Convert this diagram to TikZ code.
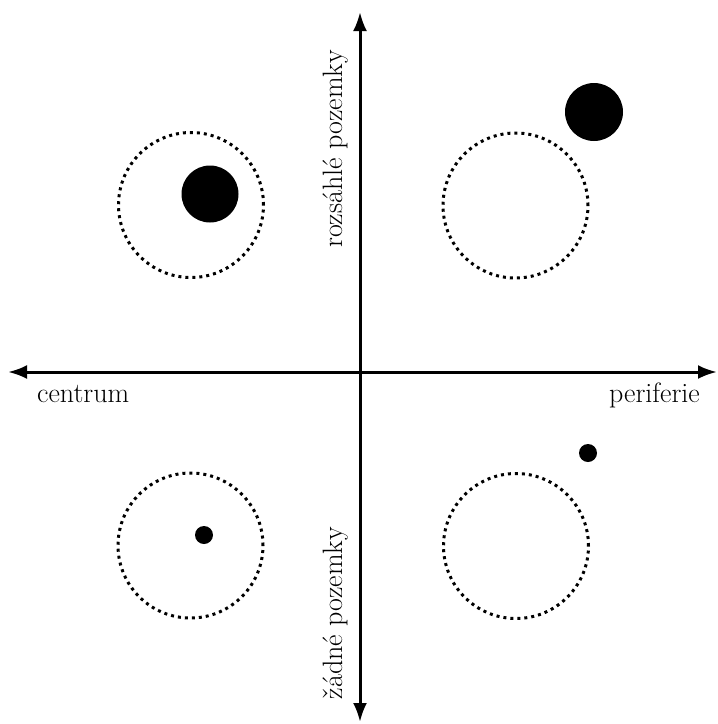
\documentclass[tikz,border=0pt]{standalone}
\usepackage{fontspec}
\usetikzlibrary{arrows.meta}
\begin{document}
\begin{tikzpicture}[x=1pt,y=-1pt,
  axis/.style={line width=3pt, {Latex[length=19pt,width=14pt]}-{Latex[length=19pt,width=14pt]}},
  zone/.style={circle, draw, line width=3pt, dash pattern=on 3pt off 4pt, minimum size=145pt, inner sep=0pt},
  blob/.style={circle, fill=black, inner sep=0pt},
  lab/.style={font=\fontsize{28}{32}\selectfont, inner sep=0pt}]
\useasboundingbox (0,0) rectangle (718,724);
% axes
\coordinate (W) at (8,372);
\coordinate (E) at (717,372);
\coordinate (N) at (360,12);
\coordinate (S) at (360,722);
\draw[axis] (W) -- (E);
\draw[axis] (S) -- (N);
% zones
\node[zone] (z1) at (191,205) {};
\node[zone] (z2) at (515.5,205.5) {};
\node[zone] (z3) at (190.5,545.5) {};
\node[zone] (z4) at (516,546) {};
% blobs
\node[blob, minimum size=57pt] (b1) at (210,194) {};
\node[blob, minimum size=58pt] (b2) at (594,112) {};
\node[blob, minimum size=18pt] (b3) at (204,535) {};
\node[blob, minimum size=18pt] (b4) at (588,453) {};
% labels
\node[lab, anchor=base west] (lc) at (37,402) {centrum};
\node[lab, anchor=base east] (lp) at (700,402) {periferie};
\node[lab, rotate=90, anchor=base] (lr) at (342,149) {rozsáhlé pozemky};
\node[lab, rotate=90, anchor=base] (lz) at (342,613) {žádné pozemky};
\end{tikzpicture}
\end{document}
